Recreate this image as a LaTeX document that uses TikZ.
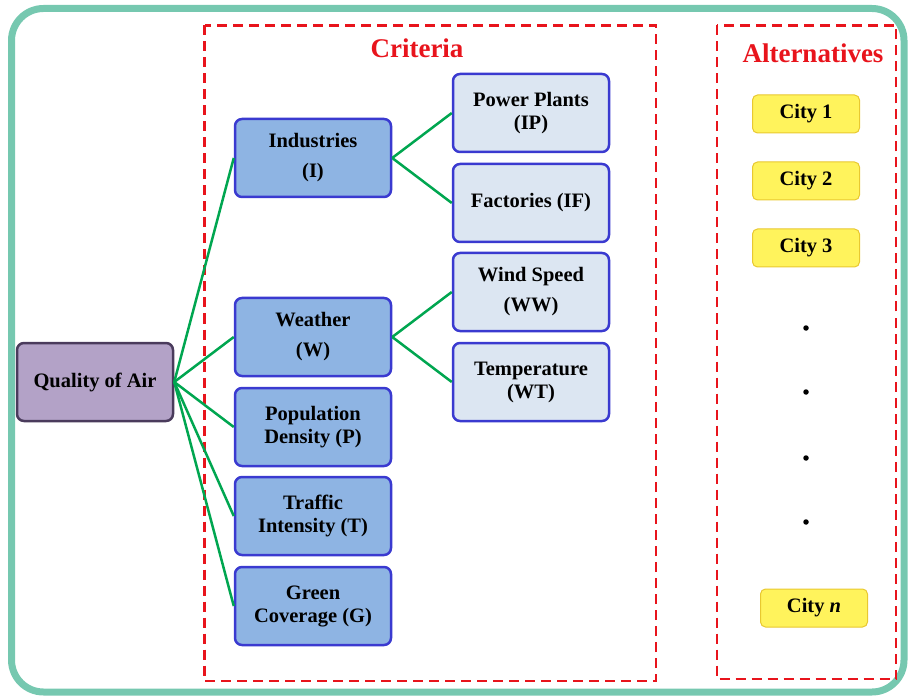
\documentclass[tikz,border=0pt]{standalone}
\usepackage{fontspec}
\setmainfont{Liberation Serif}
\usetikzlibrary{positioning}
\definecolor{outerG}{HTML}{76C8B0}
\definecolor{dashR}{HTML}{E8141C}
\definecolor{critF}{HTML}{8EB4E3}
\definecolor{critB}{HTML}{3A3AD0}
\definecolor{subF}{HTML}{DCE6F2}
\definecolor{rootF}{HTML}{B3A2C7}
\definecolor{rootB}{HTML}{4A3B5C}
\definecolor{cityF}{HTML}{FFF35C}
\definecolor{cityB}{HTML}{E8C830}
\definecolor{lineG}{HTML}{00A650}
\tikzset{
  boxbase/.style={rounded corners=7pt, line width=2.5pt, minimum width=156pt, minimum height=78pt, align=center, inner sep=2pt, font=\fontsize{20.5}{23}\selectfont\bfseries},
  critbox/.style={boxbase, draw=critB, fill=critF},
  subbox/.style={boxbase, draw=critB, fill=subF},
  rootbox/.style={boxbase, draw=rootB, fill=rootF},
  citybox/.style={rounded corners=5pt, line width=1pt, draw=cityB, fill=cityF, minimum width=107pt, minimum height=38pt, font=\fontsize{20.5}{23}\selectfont\bfseries},
  conn/.style={draw=lineG, line width=2.5pt},
  redbox/.style={draw=dashR, line width=2.8pt, dash pattern=on 10pt off 6pt},
  titletext/.style={text=dashR, font=\fontsize{27}{30}\selectfont\bfseries},
  dotnode/.style={circle, fill=black, inner sep=0pt, minimum size=5.5pt}
}
\begin{document}
\begin{tikzpicture}[x=1pt,y=-1pt]
\useasboundingbox (0,0) rectangle (912,700);
\draw[draw=outerG, line width=7pt, rounded corners=32pt] (11.5,8.5) rectangle (904,692);
\draw[redbox] (204.5,25.5) rectangle (656,681);
\draw[redbox] (717,25.5) rectangle (896,679);
\node[titletext] (crit) at (417,48) {Criteria};
\node[titletext] (alt) at (813,53) {Alternatives};

\node[rootbox] (Q) at (95,382) {Quality of Air};
\node[critbox] (I) at (313,158) {Industries\\[7pt](I)};
\node[critbox] (W) at (313,337) {Weather\\[7pt](W)};
\node[critbox] (P) at (313,427) {Population\\Density (P)};
\node[critbox] (T) at (313,516) {Traffic\\Intensity (T)};
\node[critbox] (G) at (313,606) {Green\\Coverage (G)};
\node[subbox] (IP) at (531,113) {Power Plants\\(IP)};
\node[subbox] (IF) at (531,203) {Factories (IF)};
\node[subbox] (WW) at (531,292) {Wind Speed\\[7pt](WW)};
\node[subbox] (WT) at (531,382) {Temperature\\(WT)};

\foreach \t in {I,W,P,T,G} \draw[conn] (Q.east) -- (\t.west);
\draw[conn] (I.east) -- (IP.west);
\draw[conn] (I.east) -- (IF.west);
\draw[conn] (W.east) -- (WW.west);
\draw[conn] (W.east) -- (WT.west);

\node[citybox] (c1) at (806,114) {City 1};
\node[citybox] (c2) at (806,181) {City 2};
\node[citybox] (c3) at (806,248) {City 3};
\node[citybox] (cn) at (814,608) {City \textit{n}};
\node[dotnode] (d1) at (806,328) {};
\node[dotnode] (d2) at (806,392) {};
\node[dotnode] (d3) at (806,458) {};
\node[dotnode] (d4) at (806,522) {};
\end{tikzpicture}
\end{document}
